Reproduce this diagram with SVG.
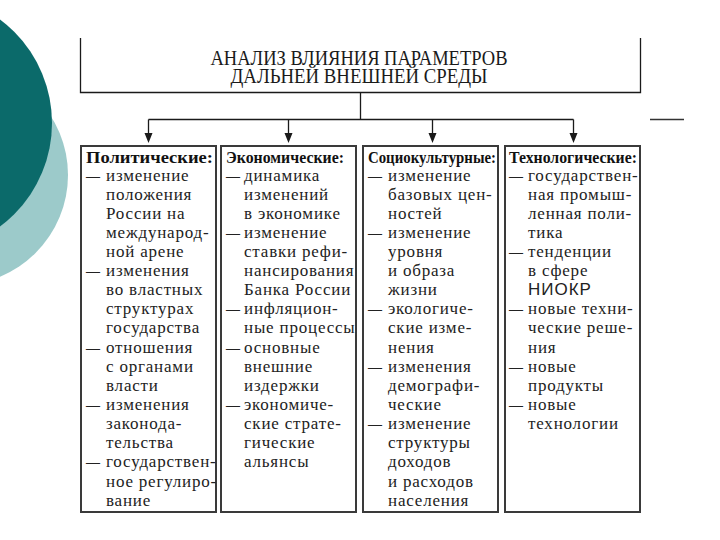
<svg xmlns="http://www.w3.org/2000/svg" width="720" height="540" viewBox="0 0 720 540">
<defs>
<style>
.bg{fill:#ffffff}
.line{stroke:#1a1a1a;stroke-width:1.3;fill:none}
.box{fill:#ffffff;stroke:#3a3a3a;stroke-width:2}
.title{font-family:"Liberation Serif","DejaVu Serif",serif;font-size:20px;fill:#1a1a1a;text-anchor:middle}
.head{font-family:"Liberation Serif","DejaVu Serif",serif;font-size:17px;font-weight:bold;fill:#111}
.t{font-family:"Liberation Serif","DejaVu Serif",serif;font-size:17px;letter-spacing:0.8px;fill:#222}
.d{font-family:"Liberation Serif","DejaVu Serif",serif;font-size:17px;fill:#222}
.s{font-family:"Liberation Sans","DejaVu Sans",sans-serif;font-size:17px;letter-spacing:1px;fill:#222}
</style>
</defs>
<rect class="bg" x="0" y="0" width="720" height="540"/>
<g id="decor">
<circle cx="-42" cy="175" r="110" fill="#9ccaca"/>
<circle cx="-77" cy="123" r="129" fill="#0b6a6a"/>
<line x1="650" y1="119.5" x2="684" y2="119.5" stroke="#333" stroke-width="1.3"/>
</g>
<g id="root">
<path class="line" d="M80.5,38 V92.5 H640.5 V38"/>
<text class="title" x="359" y="64.5" textLength="297" lengthAdjust="spacingAndGlyphs">АНАЛИЗ ВЛИЯНИЯ ПАРАМЕТРОВ</text>
<text class="title" x="359" y="83" textLength="257" lengthAdjust="spacingAndGlyphs">ДАЛЬНЕЙ ВНЕШНЕЙ СРЕДЫ</text>
</g>
<g id="connectors">
<path class="line" d="M360.5,92.5 V119.5"/>
<path class="line" d="M148.5,119.5 H573.5"/>
<path d="M148.5,119.5 V135 M288.5,119.5 V135 M432.5,119.5 V135 M573.5,119.5 V135" class="line"/>
<path d="M144.5,133 L152.5,133 L148.5,143 Z M284.5,133 L292.5,133 L288.5,143 Z M428.5,133 L436.5,133 L432.5,143 Z M569.5,133 L577.5,133 L573.5,143 Z" fill="#1a1a1a"/>
</g>
<g id="political">
<rect class="box" x="81" y="146" width="135" height="366"/>
<text class="head" x="86" y="163" textLength="127" lengthAdjust="spacingAndGlyphs">Политические:</text>
<text class="d" x="86" y="181" textLength="14" lengthAdjust="spacingAndGlyphs">—</text><text class="t" x="106" y="181">изменение</text>
<text class="t" x="106" y="200">положения</text>
<text class="t" x="106" y="219">России на</text>
<text class="t" x="106" y="238">международ-</text>
<text class="t" x="106" y="257">ной арене</text>
<text class="d" x="86" y="276" textLength="14" lengthAdjust="spacingAndGlyphs">—</text><text class="t" x="106" y="276">изменения</text>
<text class="t" x="106" y="295">во властных</text>
<text class="t" x="106" y="314">структурах</text>
<text class="t" x="106" y="333">государства</text>
<text class="d" x="86" y="353" textLength="14" lengthAdjust="spacingAndGlyphs">—</text><text class="t" x="106" y="353">отношения</text>
<text class="t" x="106" y="372">с органами</text>
<text class="t" x="106" y="391">власти</text>
<text class="d" x="86" y="410" textLength="14" lengthAdjust="spacingAndGlyphs">—</text><text class="t" x="106" y="410">изменения</text>
<text class="t" x="106" y="429">законода-</text>
<text class="t" x="106" y="448">тельства</text>
<text class="d" x="86" y="467" textLength="14" lengthAdjust="spacingAndGlyphs">—</text><text class="t" x="106" y="467">государствен-</text>
<text class="t" x="106" y="487">ное регулиро-</text>
<text class="t" x="106" y="506">вание</text>
</g>
<g id="economic">
<rect class="box" x="221" y="146" width="135" height="366"/>
<text class="head" x="226" y="163" textLength="118" lengthAdjust="spacingAndGlyphs">Экономические:</text>
<text class="d" x="226" y="181" textLength="14" lengthAdjust="spacingAndGlyphs">—</text><text class="t" x="244" y="181">динамика</text>
<text class="t" x="244" y="200">изменений</text>
<text class="t" x="244" y="219">в экономике</text>
<text class="d" x="226" y="238" textLength="14" lengthAdjust="spacingAndGlyphs">—</text><text class="t" x="244" y="238">изменение</text>
<text class="t" x="244" y="257">ставки рефи-</text>
<text class="t" x="244" y="276">нансирования</text>
<text class="t" x="244" y="295">Банка России</text>
<text class="d" x="226" y="314" textLength="14" lengthAdjust="spacingAndGlyphs">—</text><text class="t" x="244" y="314">инфляцион-</text>
<text class="t" x="244" y="333">ные процессы</text>
<text class="d" x="226" y="353" textLength="14" lengthAdjust="spacingAndGlyphs">—</text><text class="t" x="244" y="353">основные</text>
<text class="t" x="244" y="372">внешние</text>
<text class="t" x="244" y="391">издержки</text>
<text class="d" x="226" y="410" textLength="14" lengthAdjust="spacingAndGlyphs">—</text><text class="t" x="244" y="410">экономиче-</text>
<text class="t" x="244" y="429">ские страте-</text>
<text class="t" x="244" y="448">гические</text>
<text class="t" x="244" y="467">альянсы</text>
</g>
<g id="sociocultural">
<rect class="box" x="363" y="146" width="135" height="366"/>
<text class="head" x="368" y="163" textLength="128" lengthAdjust="spacingAndGlyphs">Социокультурные:</text>
<text class="d" x="368" y="181" textLength="14" lengthAdjust="spacingAndGlyphs">—</text><text class="t" x="388" y="181">изменение</text>
<text class="t" x="388" y="200">базовых цен-</text>
<text class="t" x="388" y="219">ностей</text>
<text class="d" x="368" y="238" textLength="14" lengthAdjust="spacingAndGlyphs">—</text><text class="t" x="388" y="238">изменение</text>
<text class="t" x="388" y="257">уровня</text>
<text class="t" x="388" y="276">и образа</text>
<text class="t" x="388" y="295">жизни</text>
<text class="d" x="368" y="314" textLength="14" lengthAdjust="spacingAndGlyphs">—</text><text class="t" x="388" y="314">экологиче-</text>
<text class="t" x="388" y="333">ские изме-</text>
<text class="t" x="388" y="353">нения</text>
<text class="d" x="368" y="372" textLength="14" lengthAdjust="spacingAndGlyphs">—</text><text class="t" x="388" y="372">изменения</text>
<text class="t" x="388" y="391">демографи-</text>
<text class="t" x="388" y="410">ческие</text>
<text class="d" x="368" y="429" textLength="14" lengthAdjust="spacingAndGlyphs">—</text><text class="t" x="388" y="429">изменение</text>
<text class="t" x="388" y="448">структуры</text>
<text class="t" x="388" y="467">доходов</text>
<text class="t" x="388" y="487">и расходов</text>
<text class="t" x="388" y="506">населения</text>
</g>
<g id="technological">
<rect class="box" x="505" y="146" width="135" height="366"/>
<text class="head" x="509" y="163" textLength="128" lengthAdjust="spacingAndGlyphs">Технологические:</text>
<text class="d" x="509" y="181" textLength="14" lengthAdjust="spacingAndGlyphs">—</text><text class="t" x="528" y="181">государствен-</text>
<text class="t" x="528" y="200">ная промыш-</text>
<text class="t" x="528" y="219">ленная поли-</text>
<text class="t" x="528" y="238">тика</text>
<text class="d" x="509" y="257" textLength="14" lengthAdjust="spacingAndGlyphs">—</text><text class="t" x="528" y="257">тенденции</text>
<text class="t" x="528" y="276">в сфере</text>
<text class="s" x="528" y="295">НИОКР</text>
<text class="d" x="509" y="314" textLength="14" lengthAdjust="spacingAndGlyphs">—</text><text class="t" x="528" y="314">новые техни-</text>
<text class="t" x="528" y="333">ческие реше-</text>
<text class="t" x="528" y="353">ния</text>
<text class="d" x="509" y="372" textLength="14" lengthAdjust="spacingAndGlyphs">—</text><text class="t" x="528" y="372">новые</text>
<text class="t" x="528" y="391">продукты</text>
<text class="d" x="509" y="410" textLength="14" lengthAdjust="spacingAndGlyphs">—</text><text class="t" x="528" y="410">новые</text>
<text class="t" x="528" y="429">технологии</text>
</g>
</svg>
